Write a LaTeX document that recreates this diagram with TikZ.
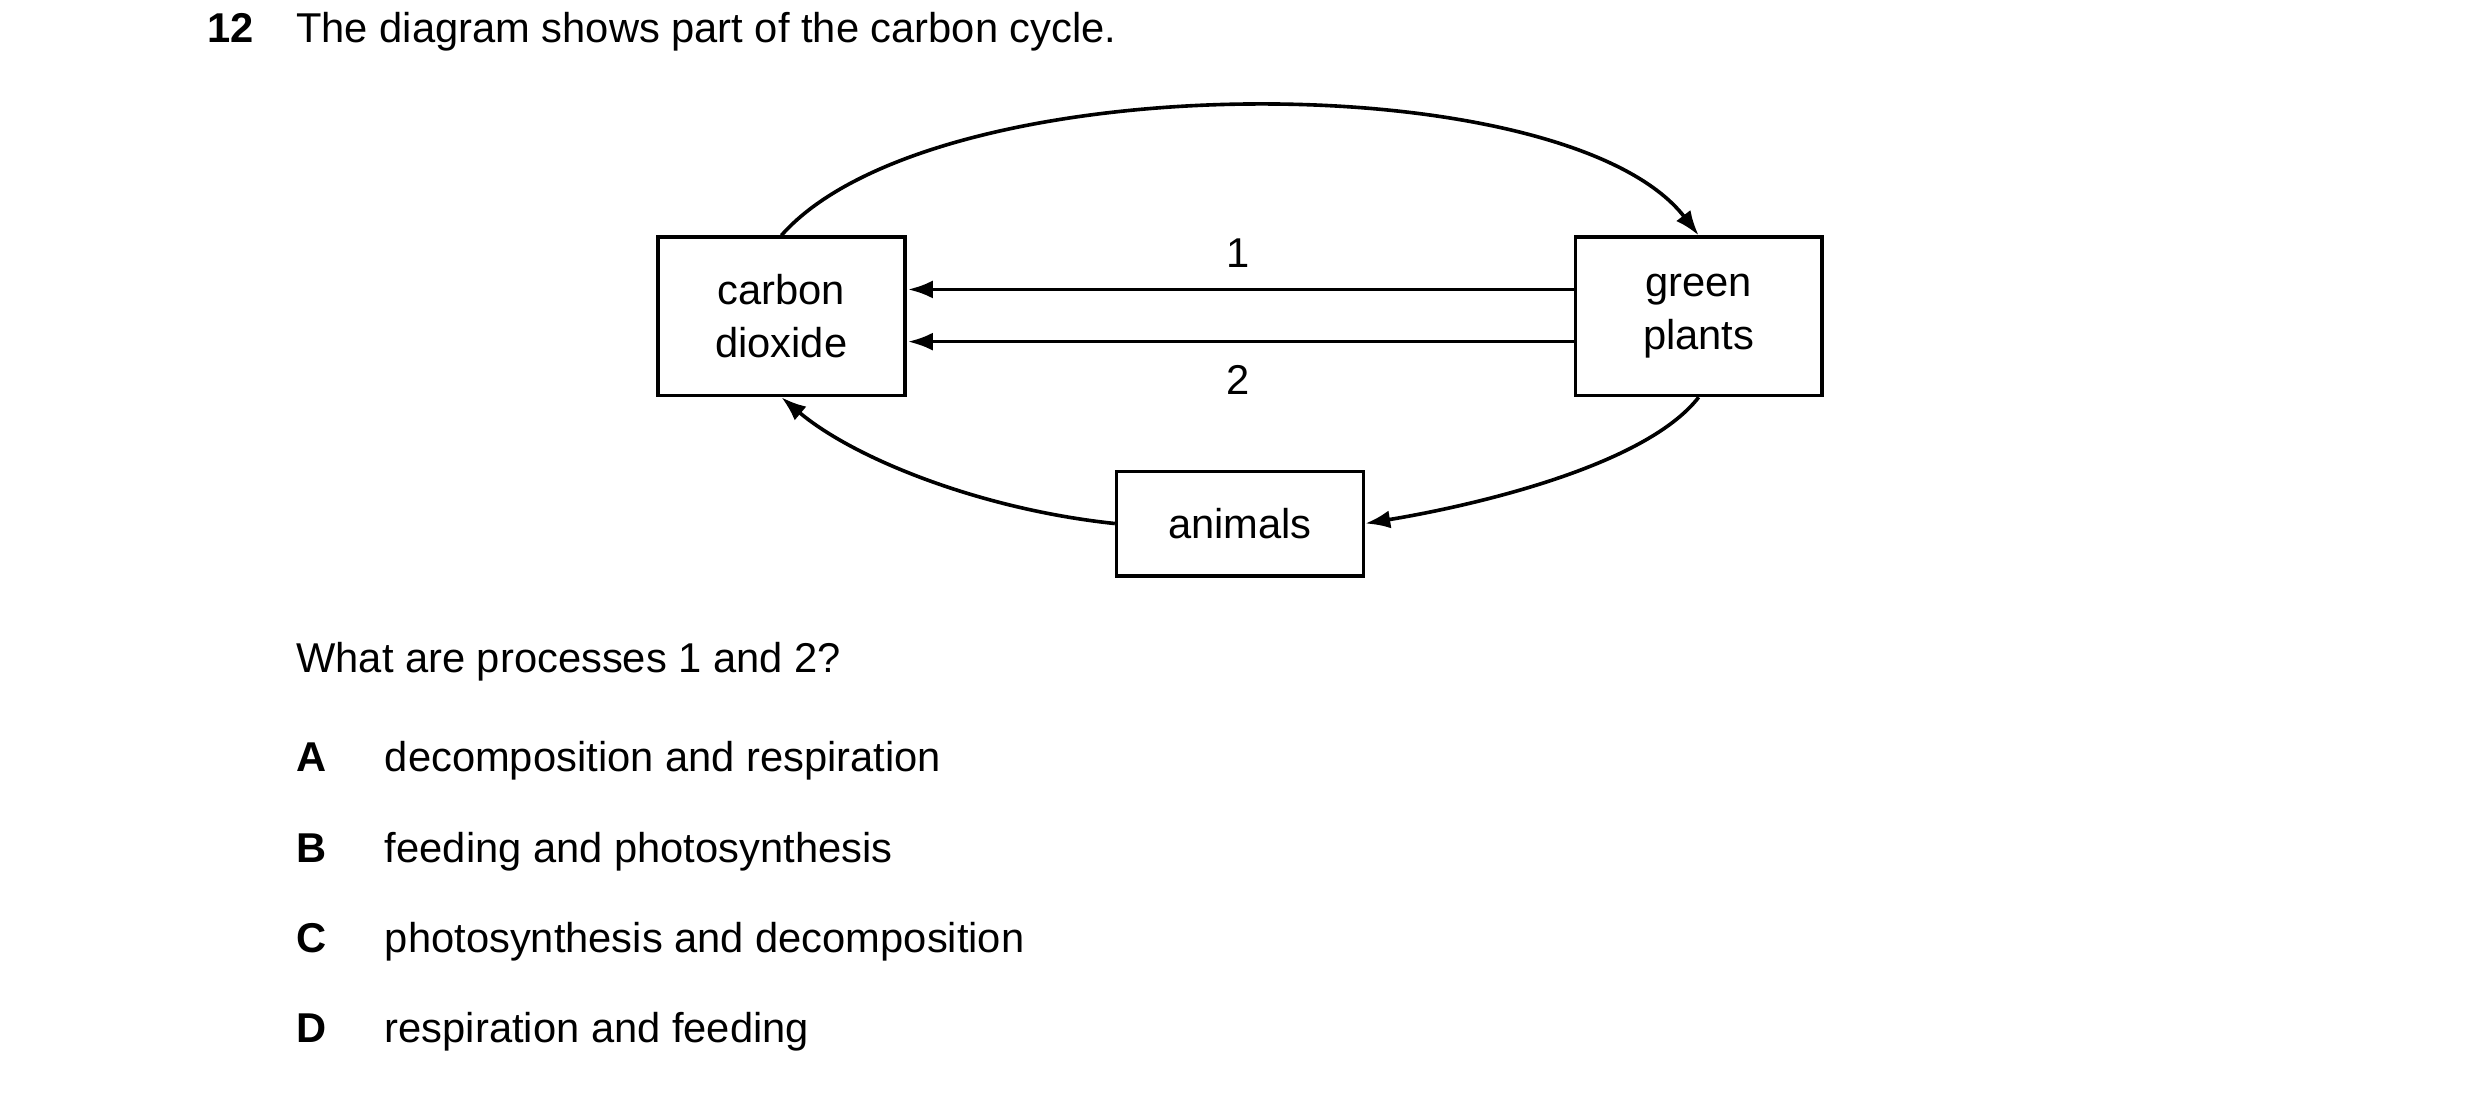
\documentclass[tikz,border=0pt]{standalone}
\usepackage{fontspec}
\setmainfont{Liberation Sans}
\usetikzlibrary{arrows.meta}
\begin{document}
\begin{tikzpicture}[x=0.02cm,y=-0.02cm,
  box/.style={draw,line width=1.3pt,minimum width=156*0.02cm,inner sep=0pt,align=center,font=\fontsize{15}{19}\selectfont},
  conn/.style={line width=1.3pt,-{Latex[length=9pt,width=6.5pt]}},
  txt/.style={anchor=base west,inner sep=0pt,font=\fontsize{15}{18}\selectfont}]
\useasboundingbox (0,0) rectangle (1568,691);
\node[txt,font=\fontsize{15}{18}\selectfont\bfseries] (q) at (131,27) {12};
\node[txt] (t) at (187,27) {The diagram shows part of the carbon cycle.};
\node[box,minimum height=100*0.02cm] (co) at (494,200) {carbon\\dioxide};
\node[box,minimum height=100*0.02cm] (gp) at (1074,200) {green\\plants};
\node[box,minimum height=66*0.02cm] (an) at (784,331) {animals};
\coordinate (a1s) at (996,183); \coordinate (a1e) at (574,183);
\coordinate (a2s) at (996,216); \coordinate (a2e) at (574,216);
\draw[conn] (a1s) -- (a1e);
\draw[conn] (a2s) -- (a2e);
\node[font=\fontsize{15}{18}\selectfont] (l1) at (783,160) {1};
\node[font=\fontsize{15}{18}\selectfont] (l2) at (783,240) {2};
\draw[conn] (co.north) .. controls (590,40) and (990,40) .. (gp.north);
\draw[conn] (gp.south) .. controls (1040,295) and (930,320) .. (an.east);
\draw[conn] (an.west) .. controls (620,322) and (540,290) .. (co.south);
\node[txt] (w) at (187,425) {What are processes 1 and 2?};
\foreach \L/\T/\y in {A/decomposition and respiration/488,B/feeding and photosynthesis/545,C/photosynthesis and decomposition/602,D/respiration and feeding/659}{
  \node[txt,font=\fontsize{15}{18}\selectfont\bfseries] (k\L) at (187,\y) {\L};
  \node[txt] (o\L) at (243,\y) {\T};
}
\end{tikzpicture}
\end{document}
